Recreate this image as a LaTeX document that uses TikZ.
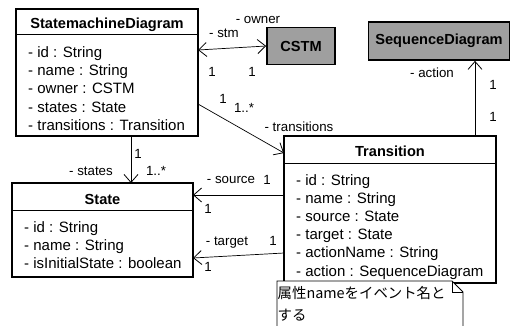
\documentclass[tikz,border=0pt]{standalone}
\usepackage{fontspec}
\setmainfont{Liberation Sans}
\newfontfamily\cjk{Noto Sans CJK JP}
\usetikzlibrary{arrows.meta}
\begin{document}
\begin{tikzpicture}[x=1pt,y=-1pt,
  cls/.style={draw,line width=1.7pt,inner sep=0pt},
  hdr/.style={anchor=base,inner sep=0pt,font=\fontsize{14.6}{18}\selectfont\bfseries},
  attr/.style={anchor=base west,inner sep=0pt,font=\fontsize{15}{18}\selectfont},
  lbl/.style={inner sep=0pt,font=\fontsize{13.3}{15}\selectfont},
  notetext/.style={anchor=base west,inner sep=0pt,font=\cjk\fontsize{14.4}{22}\selectfont},
  divider/.style={line width=0.8pt},
  assoc/.style={line width=0.7pt,-{Straight Barb[length=8pt,width=14pt,line width=0.8pt]}},
  biassoc/.style={line width=0.7pt,{Straight Barb[length=8pt,width=14pt,line width=0.8pt]}-{Straight Barb[length=8pt,width=14pt,line width=0.8pt]}},
  graybox/.style={draw,line width=1.7pt,fill=gray!75,inner sep=0pt,font=\fontsize{14.6}{18}\selectfont\bfseries}
]
\useasboundingbox (0,0) rectangle (511,325);

% StatemachineDiagram
\node[cls,minimum width=182pt,minimum height=127pt] (smd) at (107,72.5) {};
\draw[divider] (smd.west |- 0,34) -- (smd.east |- 0,34);
\node[hdr] (smdh) at (107,28.3) {StatemachineDiagram};
\foreach \t [count=\i] in {- id : String,- name : String,- owner : CSTM,- states : State,- transitions : Transition}
  \node[attr] (smda\i) at (28,{57.3+18.3*(\i-1)}) {\t};
\coordinate (smdR1) at (198,50);
\coordinate (smdR2) at (198,104);
\coordinate (smdB) at (131,136);

% CSTM
\node[graybox,minimum width=68pt,minimum height=37pt] (cstm) at (301,46) {CSTM};
% SequenceDiagram
\node[graybox,minimum width=141pt,minimum height=38pt] (seq) at (439,41) {SequenceDiagram};

% Transition
\node[cls,minimum width=212pt,minimum height=147pt] (tr) at (390,209.5) {};
\draw[divider] (tr.west |- 0,163) -- (tr.east |- 0,163);
\node[hdr] (trh) at (390,156.7) {Transition};
\foreach \t [count=\i] in {- id : String,- name : String,- source : State,- target : State,- actionName : String,- action : SequenceDiagram}
  \node[attr] (tra\i) at (296,{185+18.2*(\i-1)}) {\t};
\coordinate (trL1) at (284,153);
\coordinate (trL2) at (284,195);
\coordinate (trL3) at (284,253);
\coordinate (trT) at (475,136);

% State
\node[cls,minimum width=181pt,minimum height=94pt] (st) at (102.5,230) {};
\draw[divider] (st.west |- 0,210) -- (st.east |- 0,210);
\node[hdr] (sth) at (102.5,204) {State};
\foreach \t [count=\i] in {- id : String,- name : String,- isInitialState : boolean}
  \node[attr] (sta\i) at (24,{232+18*(\i-1)}) {\t};
\coordinate (stT) at (131,183);
\coordinate (stR1) at (193,195);
\coordinate (stR2) at (193,258);

% connectors
\draw[biassoc] (smdR1) -- (cstm.west);
\node[lbl] (l1) at (224,33) {- stm};
\node[lbl] (l2) at (258,20) {- owner};
\node[lbl] (l3) at (212,72) {1};
\node[lbl] (l4) at (252,72) {1};

\draw[assoc] (smdR2) -- (trL1);
\node[lbl] (l5) at (223,99) {1};
\node[lbl] (l6) at (244,108) {1..*};
\node[lbl] (l7) at (299,127) {- transitions};

\draw[assoc] (smdB) -- (stT);
\node[lbl] (l8) at (138,154) {1};
\node[lbl] (l9) at (156,171) {1..*};
\node[lbl] (l10) at (91,171) {- states};

\draw[assoc] (trL2) -- (stR1);
\node[lbl] (l11) at (231,180) {- source};
\node[lbl] (l12) at (267,180) {1};
\node[lbl] (l13) at (208,209) {1};

\draw[assoc] (trL3) -- (stR2);
\node[lbl] (l14) at (227,243) {- target};
\node[lbl] (l15) at (273,241) {1};
\node[lbl] (l16) at (208,267) {1};

\draw[assoc] (trT) -- (seq.south -| trT);
\node[lbl] (l17) at (432,73) {- action};
\node[lbl] (l18) at (493,85) {1};
\node[lbl] (l19) at (493,117) {1};

% note
\fill[white] (277,281) -- (452,281) -- (463,292) -- (463,326) -- (277,326) -- cycle;
\draw[line width=0.8pt] (277,326) -- (277,281) -- (452,281) -- (463,292) -- (463,326);
\draw[line width=0.8pt] (452,281) -- (452,292) -- (463,292);
\node[notetext] (note1) at (277.5,298) {属性nameをイベント名と};
\node[notetext] (note2) at (277.5,320) {する};
\end{tikzpicture}
\end{document}
